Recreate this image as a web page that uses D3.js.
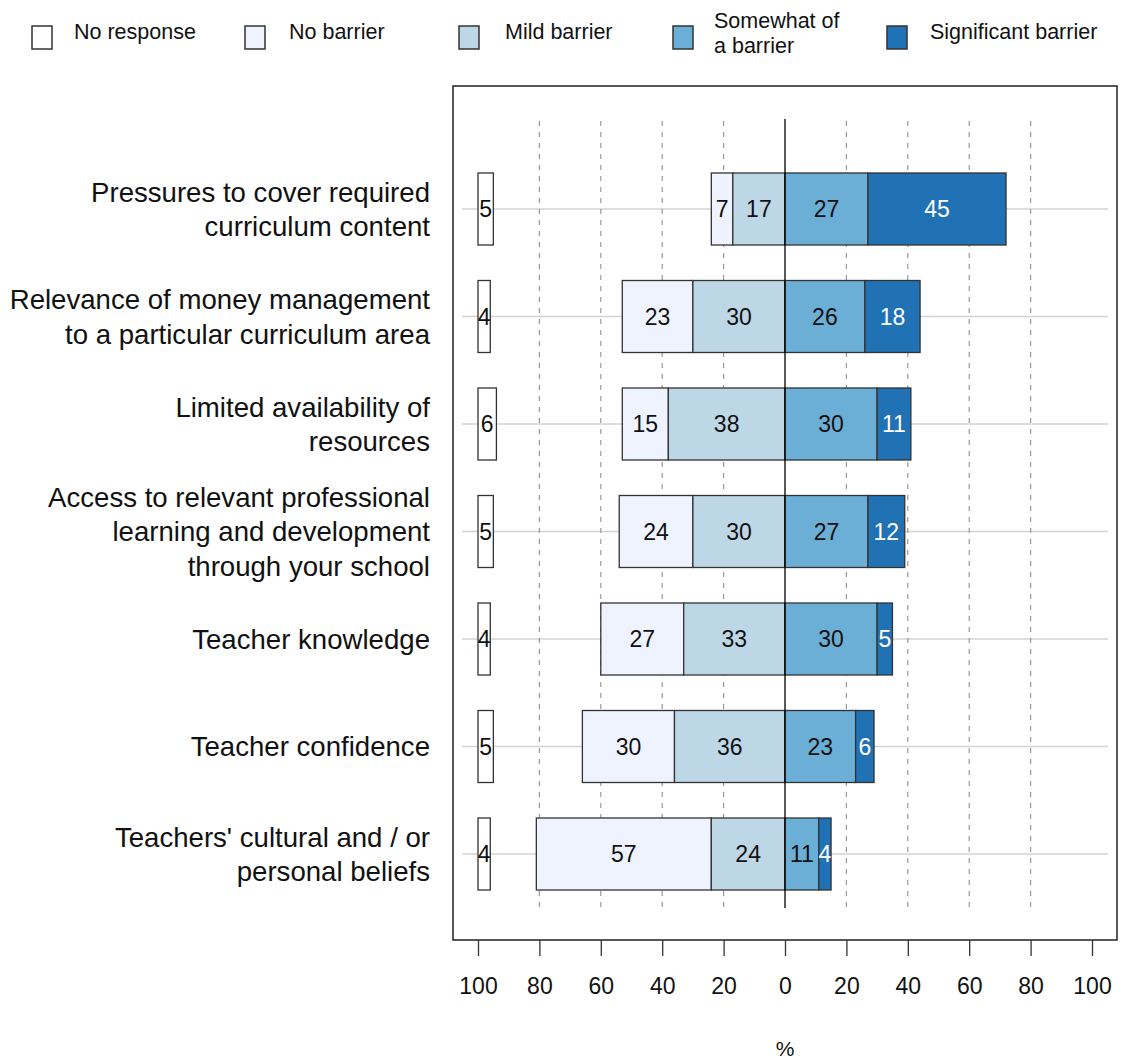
<!DOCTYPE html>
<html>
<head>
<meta charset="utf-8">
<script src="https://cdn.jsdelivr.net/npm/d3@7"></script>
<style>
  html, body { margin: 0; padding: 0; background: #fff; }
  svg { display: block; font-family: "Liberation Sans", Arial, sans-serif; }
</style>
</head>
<body>
<svg id="chart" width="1121" height="1059"></svg>
<script>
// ---- data ----
const categories = [
  "Pressures to cover required\ncurriculum content",
  "Relevance of money management\nto a particular curriculum area",
  "Limited availability of\nresources",
  "Access to relevant professional\nlearning and development\nthrough your school",
  "Teacher knowledge",
  "Teacher confidence",
  "Teachers' cultural and / or\npersonal beliefs"
];
const noResponse  = [5, 4, 6, 5, 4, 5, 4];
const noBarrier   = [7, 23, 15, 24, 27, 30, 57];
const mildBarrier = [17, 30, 38, 30, 33, 36, 24];
const somewhat    = [27, 26, 30, 27, 30, 23, 11];
const significant = [45, 18, 11, 12, 5, 6, 4];
const tickValues  = [-100, -80, -60, -40, -20, 0, 20, 40, 60, 80, 100];
const gridValues  = [-80, -60, -40, -20, 20, 40, 60, 80];
const legendLabels = ["No response", "No barrier", "Mild barrier", "Somewhat of\na barrier", "Significant barrier"];
const colors = ["#ffffff", "#eff3ff", "#bdd7e7", "#6baed6", "#2171b5"];
const axisTitle = "%";

// ---- layout ----
const svg = d3.select("#chart");
const box = { left: 453, right: 1117, top: 86, bottom: 940 };
const x = d3.scaleLinear().domain([-100, 100]).range([478, 1092]);
const y = d3.scalePoint().domain(d3.range(categories.length)).range([209, 854]);
const barH = 72;

// grey row lines
svg.append("g").selectAll("line").data(categories).join("line")
  .attr("x1", 462).attr("x2", 1108)
  .attr("y1", (d, i) => y(i)).attr("y2", (d, i) => y(i))
  .attr("stroke", "#d3d3d3").attr("stroke-width", 1.5);

// dashed grid
svg.append("g").selectAll("line").data(gridValues).join("line")
  .attr("x1", d => x(d)).attr("x2", d => x(d))
  .attr("y1", 121).attr("y2", 908)
  .attr("stroke", "#999").attr("stroke-width", 1.2)
  .attr("stroke-dasharray", "5,6");

// bars
const rows = categories.map((c, i) => {
  const segs = [];
  segs.push({ x0: -100, x1: -100 + noResponse[i], v: noResponse[i], k: 0 });
  segs.push({ x0: -(noBarrier[i] + mildBarrier[i]), x1: -mildBarrier[i], v: noBarrier[i], k: 1 });
  segs.push({ x0: -mildBarrier[i], x1: 0, v: mildBarrier[i], k: 2 });
  segs.push({ x0: 0, x1: somewhat[i], v: somewhat[i], k: 3 });
  segs.push({ x0: somewhat[i], x1: somewhat[i] + significant[i], v: significant[i], k: 4 });
  return segs.map(s => Object.assign(s, { row: i }));
}).flat();

svg.append("g").selectAll("rect").data(rows).join("rect")
  .attr("x", d => x(d.x0))
  .attr("width", d => x(d.x1) - x(d.x0))
  .attr("y", d => y(d.row) - barH / 2)
  .attr("height", barH)
  .attr("fill", d => colors[d.k])
  .attr("stroke", "#333").attr("stroke-width", 1.3);

// zero line
svg.append("line")
  .attr("x1", x(0)).attr("x2", x(0)).attr("y1", 119).attr("y2", 908)
  .attr("stroke", "#000").attr("stroke-width", 1.3);

// bar labels
svg.append("g").selectAll("text").data(rows).join("text")
  .attr("x", d => (x(d.x0) + x(d.x1)) / 2)
  .attr("y", d => y(d.row))
  .attr("dy", "0.36em")
  .attr("text-anchor", "middle")
  .attr("font-size", 23)
  .attr("fill", d => d.k === 4 ? "#fff" : "#111")
  .text(d => d.v);

// plot box
svg.append("rect")
  .attr("x", box.left).attr("y", box.top)
  .attr("width", box.right - box.left).attr("height", box.bottom - box.top)
  .attr("fill", "none").attr("stroke", "#222").attr("stroke-width", 1.5);

// x axis
const axis = d3.axisBottom(x).tickValues(tickValues)
  .tickSize(16).tickPadding(22)
  .tickFormat(d => Math.abs(d));
const ax = svg.append("g").attr("transform", `translate(0,${box.bottom})`).call(axis);
ax.select(".domain").remove();
ax.selectAll(".tick line").attr("stroke", "#333").attr("stroke-width", 1.3);
ax.selectAll(".tick text").attr("font-size", 23).attr("fill", "#111")
  .attr("font-family", "Liberation Sans, Arial, sans-serif");

svg.append("text").attr("x", x(0)).attr("y", 1048).attr("dy", "0.36em")
  .attr("text-anchor", "middle").attr("font-size", 21).attr("fill", "#111")
  .text(axisTitle);

// category labels
const lineH = 34.5;
const cat = svg.append("g").selectAll("text").data(categories).join("text")
  .attr("text-anchor", "end")
  .attr("font-size", 27.6)
  .attr("fill", "#111");
cat.each(function (d, i) {
  const lines = d.split("\n");
  const t = d3.select(this);
  lines.forEach((ln, j) => {
    t.append("tspan")
      .attr("x", 430)
      .attr("y", y(i) + (j - (lines.length - 1) / 2) * lineH)
      .attr("dy", "0.36em")
      .text(ln);
  });
});

// legend
const legBoxX = [32, 245, 459, 673, 887];
const legTextX = [74, 289, 505, 714, 930];
const leg = svg.append("g").selectAll("g").data(legendLabels).join("g");
leg.append("rect")
  .attr("x", (d, i) => legBoxX[i]).attr("y", 26)
  .attr("width", 20).attr("height", 23)
  .attr("fill", (d, i) => colors[i])
  .attr("stroke", "#333").attr("stroke-width", 1.5);
leg.each(function (d, i) {
  const lines = d.split("\n");
  const t = d3.select(this).append("text")
    .attr("font-size", 21.5).attr("fill", "#111");
  lines.forEach((ln, j) => {
    t.append("tspan")
      .attr("x", legTextX[i])
      .attr("y", lines.length === 1 ? 31 : 20 + j * 25)
      .attr("dy", "0.36em")
      .text(ln);
  });
});
</script>
</body>
</html>
